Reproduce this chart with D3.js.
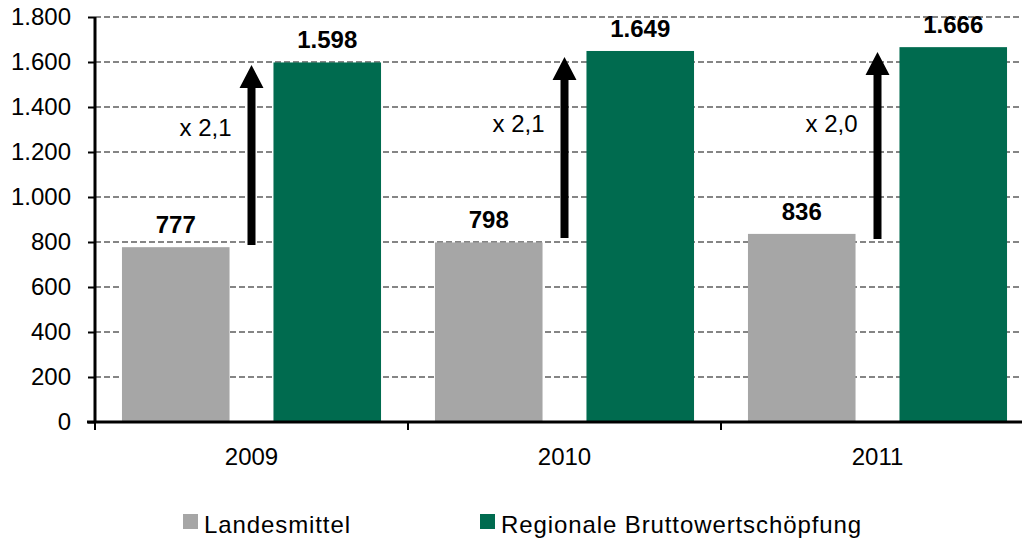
<!DOCTYPE html>
<html>
<head>
<meta charset="utf-8">
<script src="https://cdn.jsdelivr.net/npm/d3@7"></script>
<style>
  body { margin: 0; background: #fff; }
  svg { display: block; font-family: "Liberation Sans", Arial, sans-serif; }
</style>
</head>
<body>
<div id="chart"></div>
<script>
// data
var years = ["2009", "2010", "2011"];
var seriesNames = ["Landesmittel", "Regionale Bruttowertschöpfung"];
var landesmittel = [777, 798, 836];
var regional = [1598, 1649, 1666];
var yTicks = [0, 200, 400, 600, 800, 1000, 1200, 1400, 1600, 1800];
// arrow annotations (start / tip in axis units) and label heights
var arrowFrom = [787, 818, 813];
var arrowTo = [1587, 1622, 1644];
var factorLabelAt = [1270, 1290, 1290];

var colors = ["#a6a6a6", "#006b4f"];

var svgWidth = 1022, svgHeight = 539;
var margin = {top: 17, left: 95, right: -12, bottom: 117};
var width = svgWidth - margin.left - margin.right;
var height = svgHeight - margin.top - margin.bottom;

var de = d3.formatLocale({decimal: ",", thousands: ".", grouping: [3], currency: ["", "€"]});
var fmtInt = de.format(",d");
var fmtFactor = de.format(".1f");

var svg = d3.select("#chart").append("svg").attr("width", svgWidth).attr("height", svgHeight);
svg.append("rect").attr("width", svgWidth).attr("height", svgHeight).attr("fill", "#fff");
var g = svg.append("g").attr("transform", `translate(${margin.left},${margin.top})`);

var x0 = d3.scaleBand().domain(years).range([0, width]).padding(0);
var x1 = d3.scaleBand().domain(seriesNames).range([0, x0.bandwidth()]).paddingInner(0.29).paddingOuter(0.178);
var y = d3.scaleLinear().domain([0, 1800]).range([height, 0]);

// grid
g.append("g").selectAll("line").data(yTicks.slice(1)).enter().append("line")
  .attr("x1", 0).attr("x2", width)
  .attr("y1", d => y(d)).attr("y2", d => y(d))
  .attr("stroke", "#858585").attr("stroke-width", 2).attr("stroke-dasharray", "6,3");

var rows = years.map(function(yr, i) {
  return {year: yr, values: [landesmittel[i], regional[i]]};
});

// bars
var groups = g.selectAll(".yr").data(rows).enter().append("g")
  .attr("transform", d => `translate(${x0(d.year)},0)`);

groups.selectAll("rect").data(d => d.values.map((v, j) => ({name: seriesNames[j], v: v, j: j})))
  .enter().append("rect")
  .attr("x", d => x1(d.name))
  .attr("width", x1.bandwidth())
  .attr("y", d => y(d.v))
  .attr("height", d => height - y(d.v))
  .attr("fill", d => colors[d.j]);

groups.selectAll(".val").data(d => d.values.map((v, j) => ({name: seriesNames[j], v: v})))
  .enter().append("text")
  .attr("x", d => x1(d.name) + x1.bandwidth() / 2)
  .attr("y", d => y(d.v) - 14)
  .attr("text-anchor", "middle")
  .attr("font-size", "24px").attr("font-weight", "bold")
  .text(d => fmtInt(d.v));

// arrows
rows.forEach(function(d, i) {
  var cx = x0(d.year) + x0.bandwidth() / 2;
  var yb = y(arrowFrom[i]), yt = y(arrowTo[i]);
  var headH = 23, headW = 12, shaft = 4;
  var p = d3.path();
  p.moveTo(cx - shaft, yb);
  p.lineTo(cx - shaft, yt + headH);
  p.lineTo(cx - headW, yt + headH);
  p.lineTo(cx, yt);
  p.lineTo(cx + headW, yt + headH);
  p.lineTo(cx + shaft, yt + headH);
  p.lineTo(cx + shaft, yb);
  p.closePath();
  g.append("path").attr("d", p.toString()).attr("fill", "#000");
  g.append("text")
    .attr("x", cx - 20).attr("y", y(factorLabelAt[i]))
    .attr("text-anchor", "end").attr("font-size", "24px")
    .text("x " + fmtFactor(regional[i] / landesmittel[i]));
});

// y axis
var yAxis = g.append("g").call(d3.axisLeft(y).tickValues(yTicks).tickFormat(fmtInt).tickSize(7).tickPadding(17));
yAxis.select(".domain").attr("stroke", "#000").attr("stroke-width", 3).attr("d", `M0,${height + 1}V0`);
yAxis.selectAll(".tick line").attr("stroke", "#000").attr("stroke-width", 2);
yAxis.selectAll("text").attr("font-size", "24px").attr("font-family", "Liberation Sans, Arial, sans-serif").attr("fill", "#000");

// x axis
var xAxis = g.append("g").attr("transform", `translate(0,${height})`)
  .call(d3.axisBottom(x0).tickSize(0).tickPadding(26));
xAxis.select(".domain").attr("stroke", "#000").attr("stroke-width", 3).attr("d", `M-8,0H${width}`);
xAxis.selectAll("text").attr("font-size", "24px").attr("font-family", "Liberation Sans, Arial, sans-serif").attr("fill", "#000");
g.append("g").selectAll("line").data(years).enter().append("line")
  .attr("x1", d => x0(d)).attr("x2", d => x0(d))
  .attr("y1", height).attr("y2", height + 8)
  .attr("stroke", "#000").attr("stroke-width", 2);

// legend
var legendX = [183, 480];
var legend = svg.append("g").selectAll("g").data(seriesNames).enter().append("g")
  .attr("transform", (d, i) => `translate(${legendX[i]},514)`);
legend.append("rect").attr("width", 15).attr("height", 15).attr("fill", (d, i) => colors[i]);
legend.append("text").attr("x", 21).attr("y", 19)
  .attr("font-size", "24px").attr("letter-spacing", "0.9px")
  .text(d => d);
</script>
</body>
</html>
